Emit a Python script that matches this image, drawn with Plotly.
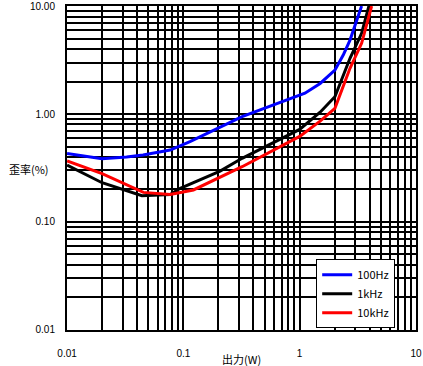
import plotly.graph_objects as go

x100 = [0.01, 0.02, 0.0325, 0.045, 0.077, 0.114, 0.32, 1.11, 1.5, 2.01, 2.37, 2.71, 3.41]
y100 = [0.43, 0.385, 0.40, 0.418, 0.464, 0.554, 0.944, 1.56, 1.92, 2.55, 3.52, 4.84, 10]

x1k = [0.01, 0.02, 0.044, 0.077, 0.094, 0.207, 0.32, 1.0, 1.5, 2.01, 2.71, 3.41, 3.94]
y1k = [0.337, 0.231, 0.175, 0.18, 0.205, 0.296, 0.389, 0.72, 1.04, 1.445, 3.28, 5.59, 10]

x10k = [0.01, 0.02, 0.0453, 0.077, 0.122, 0.207, 0.32, 1.0, 1.5, 2.01, 2.71, 3.41, 4.16]
y10k = [0.367, 0.28, 0.188, 0.18, 0.198, 0.259, 0.325, 0.62, 0.86, 1.13, 2.65, 4.52, 10]

series_names = ["100Hz", "1kHz", "10kHz"]
series_colors = ["#0000ff", "#000000", "#ff0000"]

x_ticks = [0.01, 0.1, 1, 10]
x_ticktext = ["0.01", "0.1", "1", "10"]
y_ticks = [0.01, 0.1, 1, 10]
y_ticktext = ["0.01", "0.10", "1.00", "10.00"]

def all_grid(decades):
    vals = []
    for d in decades[:-1]:
        for k in range(1, 10):
            vals.append(round(d * k, 6))
    vals.append(decades[-1])
    return vals

def grid_text(vals, majors, texts):
    out = []
    for v in vals:
        t = ""
        for m, s in zip(majors, texts):
            if abs(v - m) < 1e-9:
                t = s
        out.append(t)
    return out

xg = all_grid(x_ticks)
yg = all_grid(y_ticks)

font = "Noto Sans CJK JP, DejaVu Sans, sans-serif"
tickfont = dict(family="Liberation Sans, Arial, sans-serif", size=10, color="black")

fig = go.Figure()
for xs, ys, nm, col in zip([x100, x1k, x10k], [y100, y1k, y10k], series_names, series_colors):
    fig.add_trace(go.Scatter(x=xs, y=ys, mode="lines", name=nm, legendgroup=nm,
                             line=dict(color=col, width=3)))

eps = 0.0005
fig.update_layout(
    width=423, height=366,
    margin=dict(l=67, r=7, t=6, b=36),
    paper_bgcolor="white", plot_bgcolor="white",
    font=dict(family=font, size=11, color="black"),
    showlegend=True,
    legend=dict(x=0.714, y=0.218, xanchor="left", yanchor="top",
                bgcolor="white", bordercolor="black", borderwidth=1,
                font=dict(family=font, size=11, color="black"),
                itemwidth=30, tracegroupgap=0),
)
fig.update_xaxes(type="log", range=[-2 - eps, 1 + eps], tickvals=xg, ticktext=grid_text(xg, x_ticks, x_ticktext),
                 showgrid=True, gridcolor="black", gridwidth=1.5, zeroline=False,
                 showline=True, linecolor="black", linewidth=2, mirror=True, tickfont=tickfont,
                 ticks="", ticklabelstandoff=13, automargin=False, ticklabeloverflow="allow")
fig.update_yaxes(type="log", range=[-2 - eps, 1 + eps], tickvals=yg, ticktext=grid_text(yg, y_ticks, y_ticktext),
                 showgrid=True, gridcolor="black", gridwidth=1.5, zeroline=False,
                 showline=True, linecolor="black", linewidth=2, mirror=True, tickfont=tickfont,
                 ticks="", ticklabelstandoff=8, automargin=False, ticklabeloverflow="allow")
fig.add_annotation(text="歪率(%)", xref="paper", yref="paper", x=-0.172, y=0.496,
                   xanchor="left", yanchor="middle", showarrow=False,
                   font=dict(family=font, size=11, color="black"))
fig.add_annotation(text="出力(W)", xref="paper", yref="paper", x=0.5, y=-0.09,
                   xanchor="center", yanchor="middle", showarrow=False,
                   font=dict(family=font, size=11, color="black"))

fig.write_html("out.html", config={"displayModeBar": False},
               post_script="document.body.style.margin='0';")
